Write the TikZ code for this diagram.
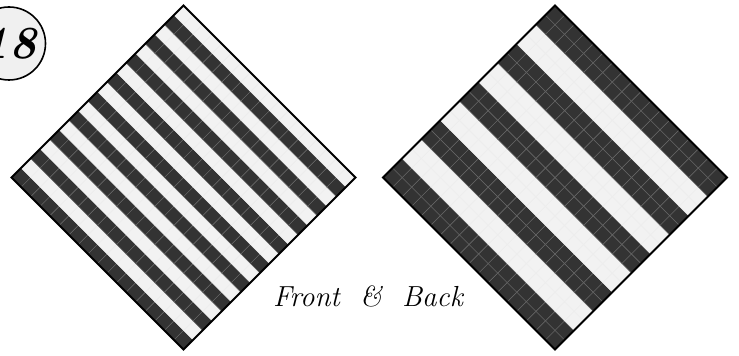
\documentclass[tikz,border=0pt]{standalone}
\usepackage{tikz}
\usetikzlibrary{positioning}
\definecolor{stitchdark}{HTML}{333333}
\definecolor{stitchlight}{HTML}{F2F2F2}
\tikzset{
  darkcell/.style={fill=stitchdark, draw=black!60, line width=0.5},
  lightcell/.style={fill=stitchlight, draw=black!7, line width=0.5},
  chartedge/.style={draw=black, line width=2, line join=miter},
  badge/.style={circle, draw, line width=1.6, fill=black!6, minimum size=73, inner sep=0pt,
    font=\fontsize{46}{46}\selectfont\bfseries\itshape},
  caption/.style={font=\fontsize{29}{31}\selectfont\itshape, anchor=base},
}
\def\h{121.6}
\def\cs{13.511}

\begin{document}
\begin{tikzpicture}[x=1pt, y=1pt]
  \useasboundingbox (0,0) rectangle (739,356);
  % front: one-row stripes
  \begin{scope}[shift={(183.5,178.5)}, rotate=45]
    \foreach \i in {0,...,17}
      \foreach \j in {0,...,17}{
        \ifodd\i
          \path[lightcell] ({-\h+\i*\cs},{-\h+\j*\cs}) rectangle ++(\cs,\cs);
        \else
          \path[darkcell] ({-\h+\i*\cs},{-\h+\j*\cs}) rectangle ++(\cs,\cs);
        \fi
      }
    \draw[chartedge] (-\h,-\h) rectangle (\h,\h);
  \end{scope}
  % back: two-row stripes
  \begin{scope}[shift={(555,178.5)}, rotate=45]
    \foreach \i in {0,...,17}
      \foreach \j in {0,...,17}{
        \pgfmathtruncatemacro\band{\i/2}
        \ifodd\band
          \path[lightcell] ({-\h+\i*\cs},{-\h+\j*\cs}) rectangle ++(\cs,\cs);
        \else
          \path[darkcell] ({-\h+\i*\cs},{-\h+\j*\cs}) rectangle ++(\cs,\cs);
        \fi
      }
    \draw[chartedge] (-\h,-\h) rectangle (\h,\h);
  \end{scope}
  \node[badge] (num) at (9,312.5) {18};
  \node[caption] (label) at (368,49.3) {Front~~\&~~Back};
\end{tikzpicture}
\end{document}
